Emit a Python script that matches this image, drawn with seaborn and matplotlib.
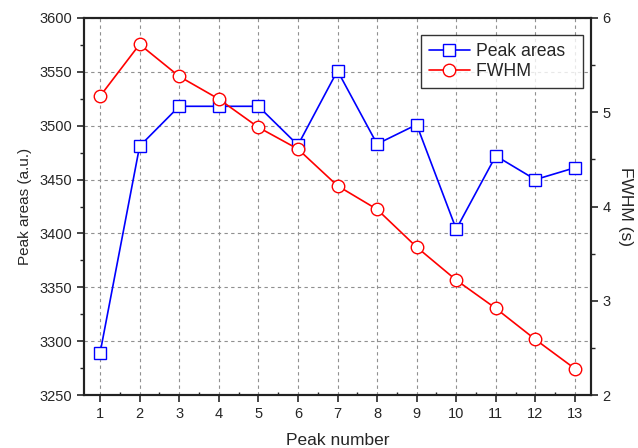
import numpy as np
import pandas as pd
import matplotlib
matplotlib.use("Agg")
import matplotlib.pyplot as plt
import seaborn as sns
from matplotlib.ticker import MultipleLocator

peak_number = list(range(1, 14))
peak_areas = [3289, 3481, 3518, 3518, 3518, 3482, 3551, 3483, 3501, 3404, 3472, 3450, 3461]
fwhm = [5.17, 5.72, 5.38, 5.14, 4.84, 4.61, 4.22, 3.97, 3.57, 3.22, 2.92, 2.59, 2.28]

df = pd.DataFrame({"peak": peak_number, "area": peak_areas, "fwhm": fwhm})

sns.set_style("ticks")
plt.rcParams["font.family"] = ["Liberation Sans", "DejaVu Sans"]

fig, ax = plt.subplots(figsize=(6.38, 4.48), dpi=100)
fig.subplots_adjust(left=0.132, right=0.926, top=0.96, bottom=0.118)
ax2 = ax.twinx()

sns.lineplot(data=df, x="peak", y="area", ax=ax, color="blue", lw=1.2,
             marker="s", markersize=8, markerfacecolor="white",
             markeredgecolor="blue", markeredgewidth=1.0, label="Peak areas", legend=False)
sns.lineplot(data=df, x="peak", y="fwhm", ax=ax2, color="red", lw=1.2,
             marker="o", markersize=9, markerfacecolor="white",
             markeredgecolor="red", markeredgewidth=1.0, label="FWHM", legend=False)

ax.set_xlim(0.6, 13.4)
ax.set_ylim(3250, 3600)
ax2.set_ylim(2, 6)
ax.set_xticks(peak_number)
ax.xaxis.set_minor_locator(MultipleLocator(0.5))
ax.yaxis.set_major_locator(MultipleLocator(50))
ax.yaxis.set_minor_locator(MultipleLocator(25))
ax2.yaxis.set_major_locator(MultipleLocator(1))
ax2.yaxis.set_minor_locator(MultipleLocator(0.5))

ax.grid(True, which="major", ls=(0, (3, 3)), color="#909090", lw=0.8)
ax.set_axisbelow(True)

for a in (ax, ax2):
    for s in a.spines.values():
        s.set_linewidth(1.5)
        s.set_color("#222222")
ax.tick_params(axis="both", which="major", direction="out", length=5, width=1.2, labelsize=10.5)
ax.tick_params(axis="both", which="minor", direction="out", length=3, width=1.0)
ax.tick_params(axis="x", which="minor", direction="in", length=2)
ax2.tick_params(axis="y", which="major", direction="out", length=5, width=1.2, labelsize=10.5)
ax2.tick_params(axis="y", which="minor", direction="out", length=3, width=1.0)

ax.set_xlabel("Peak number", fontsize=12.5, labelpad=9)
ax.set_ylabel("Peak areas (a.u.)", fontsize=11, labelpad=5.5)
ax2.set_ylabel("FWHM (s)", fontsize=12.5, rotation=-90, labelpad=16)

h1, l1 = ax.get_legend_handles_labels()
h2, l2 = ax2.get_legend_handles_labels()
labels = [t + "  " for t in l1 + l2]
leg = ax2.legend(h1 + h2, labels, loc="upper right", bbox_to_anchor=(0.984, 0.955),
                 borderaxespad=0, fontsize=12.7, frameon=True, fancybox=False,
                 edgecolor="black", handlelength=2.3, handletextpad=0.35,
                 borderpad=0.45, labelspacing=0.2)
leg.get_frame().set_linewidth(1.0)

fig.savefig("out.png", dpi=100)
